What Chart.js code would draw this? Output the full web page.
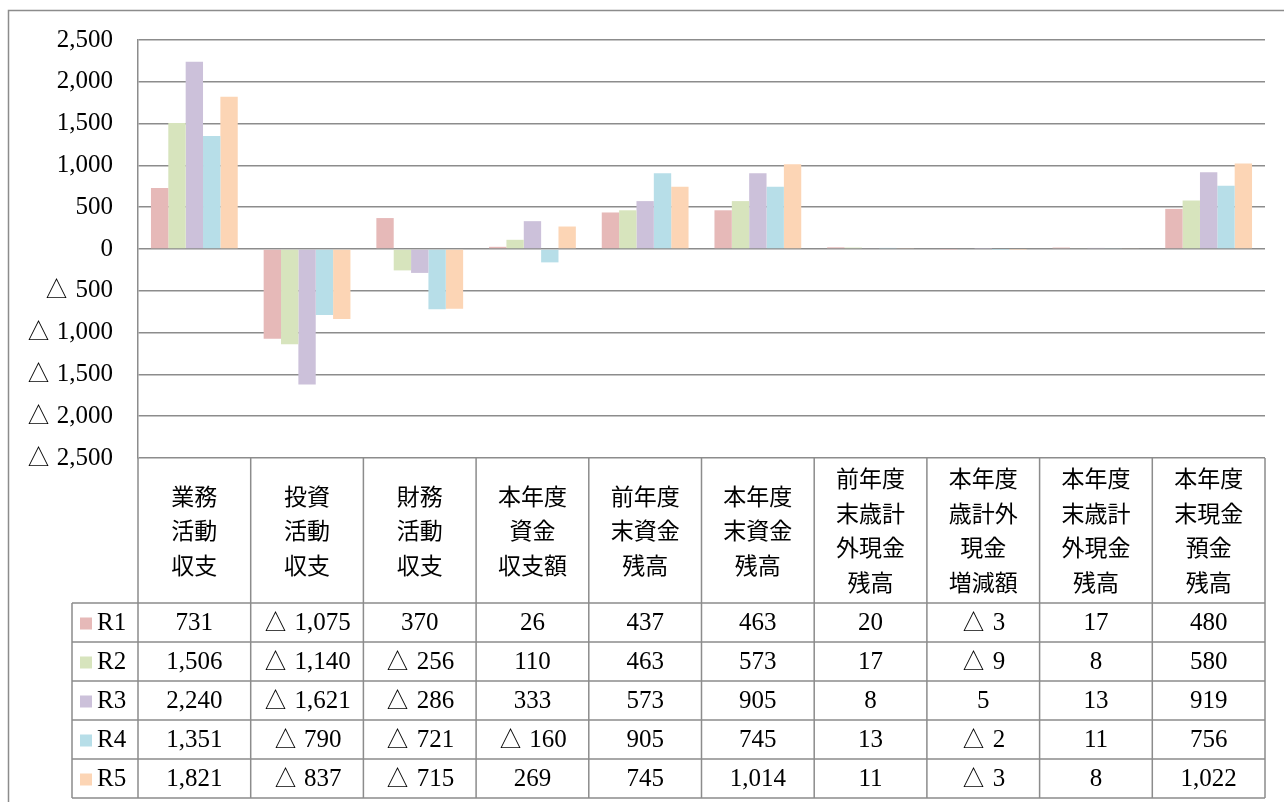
<!DOCTYPE html>
<html lang="ja">
<head>
  <meta charset="UTF-8" />
  <title>資金収支の推移</title>
  <script src="https://cdn.jsdelivr.net/npm/chart.js"></script>
  <style>
    body { margin: 0; background: #fff; }
    #wrap { width: 1284px; height: 802px; }
  </style>
</head>
<body>
  <div id="wrap"><canvas id="chart"></canvas></div>

  <script>
    const categories = [
      ['業務', '活動', '収支'],
      ['投資', '活動', '収支'],
      ['財務', '活動', '収支'],
      ['本年度', '資金', '収支額'],
      ['前年度', '末資金', '残高'],
      ['本年度', '末資金', '残高'],
      ['前年度', '末歳計', '外現金', '残高'],
      ['本年度', '歳計外', '現金', '増減額'],
      ['本年度', '末歳計', '外現金', '残高'],
      ['本年度', '末現金', '預金', '残高']
    ];
    const seriesNames = ['R1', 'R2', 'R3', 'R4', 'R5'];
    const r1 = [731, -1075, 370, 26, 437, 463, 20, -3, 17, 480];
    const r2 = [1506, -1140, -256, 110, 463, 573, 17, -9, 8, 580];
    const r3 = [2240, -1621, -286, 333, 573, 905, 8, 5, 13, 919];
    const r4 = [1351, -790, -721, -160, 905, 745, 13, -2, 11, 756];
    const r5 = [1821, -837, -715, 269, 745, 1014, 11, -3, 8, 1022];
    const colors = ['#E6B9B8', '#D7E4BD', '#CCC1DA', '#B7DEE8', '#FCD5B5'];
    const yMin = -2500, yMax = 2500, yStep = 500;

    const seriesValues = [r1, r2, r3, r4, r5];
    const lineColor = '#8c8c8c';
    const serif = '"Liberation Serif", "Times New Roman", serif';
    const cjk = '"Noto Sans CJK JP", sans-serif';

    function fmt(v) {
      const s = Math.abs(v).toLocaleString('en-US');
      return v < 0 ? '△ ' + s : s;
    }

    // data table drawn under the plot, aligned to the x scale
    const dataTable = {
      id: 'dataTable',
      afterDraw(chart) {
        const ctx = chart.ctx;
        const ca = chart.chartArea;
        const xs = chart.scales.x;
        const n = categories.length;
        const cw = (ca.right - ca.left) / n;
        const headTop = ca.bottom;
        const headBot = 603;
        const rowH = 39;
        const tableBot = headBot + rowH * seriesNames.length;
        const legLeft = 72;

        ctx.save();
        // outer chart frame
        ctx.strokeStyle = lineColor;
        ctx.lineWidth = 1.5;
        ctx.strokeRect(8.5, 10.5, 1400, 900);

        ctx.beginPath();
        for (let i = 0; i <= n; i++) {
          const x = ca.left + i * cw;
          ctx.moveTo(x, headTop);
          ctx.lineTo(x, tableBot);
        }
        ctx.moveTo(legLeft, headBot);
        ctx.lineTo(legLeft, tableBot);
        for (let r = 0; r <= seriesNames.length; r++) {
          const y = headBot + r * rowH;
          ctx.moveTo(legLeft, y);
          ctx.lineTo(ca.right, y);
        }
        ctx.stroke();

        // header labels
        ctx.fillStyle = '#000';
        ctx.textAlign = 'center';
        ctx.textBaseline = 'middle';
        ctx.font = '23px ' + cjk;
        const lh = 34.5;
        const hc = (headTop + headBot) / 2;
        categories.forEach((lines, i) => {
          const cx = xs.getPixelForValue(i);
          const y0 = hc - (lines.length - 1) * lh / 2;
          lines.forEach((t, k) => ctx.fillText(t, cx, y0 + k * lh));
        });

        // rows
        ctx.font = '25px ' + serif;
        seriesNames.forEach((name, r) => {
          const cy = headBot + r * rowH + rowH / 2 + 1;
          ctx.fillStyle = colors[r];
          ctx.fillRect(80, cy - 6, 12, 12);
          ctx.fillStyle = '#000';
          ctx.textAlign = 'left';
          ctx.fillText(name, 97, cy);
          ctx.textAlign = 'center';
          seriesValues[r].forEach((v, i) => {
            ctx.fillText(fmt(v), xs.getPixelForValue(i), cy);
          });
        });
        ctx.restore();
      }
    };

    new Chart(document.getElementById('chart'), {
      type: 'bar',
      data: {
        labels: categories,
        datasets: seriesNames.map((name, i) => ({
          label: name,
          data: seriesValues[i],
          backgroundColor: colors[i],
          borderWidth: 0,
          categoryPercentage: 0.77,
          barPercentage: 1.0
        }))
      },
      options: {
        responsive: true,
        maintainAspectRatio: false,
        animation: false,
        layout: { padding: { top: 40, right: 19, bottom: 344, left: 0 } },
        plugins: { legend: { display: false }, tooltip: { enabled: false } },
        scales: {
          x: { display: false },
          y: {
            min: yMin,
            max: yMax,
            afterFit: s => { s.width = 138; },
            ticks: {
              stepSize: yStep,
              padding: 25,
              color: '#000',
              font: { family: serif, size: 25 },
              callback: v => fmt(v)
            },
            grid: { color: lineColor, lineWidth: 1.5, drawTicks: false },
            border: { color: lineColor, width: 1.5 }
          }
        }
      },
      plugins: [dataTable]
    });
  </script>
</body>
</html>
